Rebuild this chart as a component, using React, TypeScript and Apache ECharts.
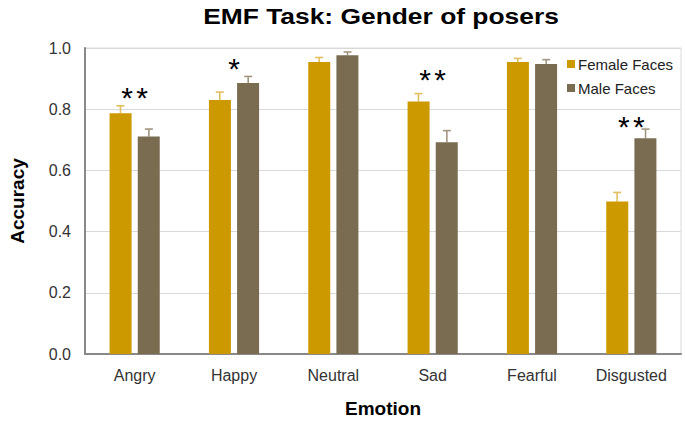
import React, { useEffect, useRef } from "react";
import * as echarts from "echarts";

const categories = ["Angry", "Happy", "Neutral", "Sad", "Fearful", "Disgusted"];
const femaleValues = [0.787, 0.83, 0.954, 0.825, 0.954, 0.498];
const femaleErrors = [0.024, 0.026, 0.015, 0.026, 0.012, 0.03];
const maleValues = [0.711, 0.886, 0.976, 0.692, 0.948, 0.705];
const maleErrors = [0.024, 0.021, 0.011, 0.038, 0.014, 0.03];
const significance = ["**", "*", "", "**", "", "**"];
const significanceY = [0.862, 0.955, 0, 0.919, 0, 0.765];
const yTicks = [0, 0.2, 0.4, 0.6, 0.8, 1.0];

const FONT = "'Liberation Sans', Arial, sans-serif";
const FEMALE = "#CC9900";
const MALE = "#7A6C50";

export default function App() {
  const ref = useRef<HTMLDivElement>(null);

  useEffect(() => {
    document.body.style.margin = "0";
    const chart = echarts.init(ref.current!, null, { renderer: "svg" });

    const errorSeries = (name: string, values: number[], errs: number[], dir: number, color: string) => ({
      type: "custom",
      name: name + " error",
      z: 1,
      silent: true,
      data: values.map((v, i) => [i, v, v + errs[i]]),
      renderItem: (params: any, api: any) => {
        const i = api.value(0);
        const base = api.coord([i, api.value(1)]);
        const top = api.coord([i, api.value(2)]);
        const x = base[0] + dir * 14.2;
        return {
          type: "group",
          children: [
            { type: "line", shape: { x1: x, y1: base[1], x2: x, y2: top[1] }, style: { stroke: color, lineWidth: 1.6 } },
            { type: "line", shape: { x1: x - 4, y1: top[1], x2: x + 4, y2: top[1] }, style: { stroke: color, lineWidth: 1.6 } },
          ],
        };
      },
    });

    chart.setOption({
      animation: false,
      graphic: [
        {
          type: "text",
          x: 381,
          y: 16,
          scaleX: 1.2,
          style: {
            text: "EMF Task: Gender of posers",
            font: `bold 22px ${FONT}`,
            fill: "#000",
            textAlign: "center",
            textVerticalAlign: "middle",
          },
        },
      ],
      legend: {
        orient: "vertical",
        left: 567,
        top: 56,
        padding: 0,
        itemWidth: 8,
        itemHeight: 8,
        itemGap: 8,
        icon: "rect",
        data: ["Female Faces", "Male Faces"],
        textStyle: { fontFamily: FONT, fontSize: 15, color: "#222", lineHeight: 16, padding: [0, 0, 0, -2] },
      },
      grid: {
        left: 75,
        right: 4,
        top: 48,
        bottom: 64,
        show: true,
        borderColor: "#d9d9d9",
        borderWidth: 1,
      },
      xAxis: {
        type: "category",
        data: categories,
        name: "Emotion",
        nameLocation: "middle",
        nameGap: 45,
        nameTextStyle: { fontFamily: FONT, fontSize: 19, fontWeight: "bold", color: "#000" },
        axisLine: { lineStyle: { color: "#898989", width: 2 } },
        axisTick: { show: false },
        axisLabel: { fontFamily: FONT, fontSize: 16, color: "#333", margin: 13 },
      },
      yAxis: {
        type: "value",
        min: 0,
        max: 1,
        interval: 0.2,
        name: "Accuracy",
        nameLocation: "middle",
        nameGap: 58,
        nameTextStyle: { fontFamily: FONT, fontSize: 19, fontWeight: "bold", color: "#000" },
        axisLine: { show: true, lineStyle: { color: "#898989", width: 2 } },
        axisTick: { show: false },
        splitLine: { lineStyle: { color: "#d9d9d9", width: 1 } },
        axisLabel: {
          fontFamily: FONT,
          fontSize: 16,
          color: "#333",
          margin: 14,
          formatter: (v: number) => (yTicks.includes(Math.round(v * 10) / 10) ? v.toFixed(1) : ""),
        },
      },
      series: [
        {
          type: "bar",
          name: "Female Faces",
          data: femaleValues,
          barWidth: 22,
          barGap: "28%",
          itemStyle: { color: FEMALE },
          z: 2,
        },
        {
          type: "bar",
          name: "Male Faces",
          data: maleValues,
          barWidth: 22,
          barGap: "28%",
          itemStyle: { color: MALE },
          z: 2,
        },
        errorSeries("Female Faces", femaleValues, femaleErrors, -1, "#E2BF5E"),
        errorSeries("Male Faces", maleValues, maleErrors, 1, "#A39480"),
        {
          type: "custom",
          name: "significance",
          silent: true,
          data: significance.map((s, i) => [i, significanceY[i]]),
          renderItem: (params: any, api: any) => {
            const i = api.value(0);
            const label = significance[i];
            if (!label) return null;
            const p = api.coord([i, api.value(1)]);
            const offsets = label.length === 2 ? [-7.5, 7.5] : [0];
            return {
              type: "group",
              children: offsets.map((dx) => ({
                type: "text",
                x: p[0] + dx,
                y: p[1] + 7,
                style: {
                  text: "*",
                  font: `30px ${FONT}`,
                  fill: "#000",
                  textAlign: "center",
                  textVerticalAlign: "middle",
                },
              })),
            };
          },
        },
      ],
    });

    return () => chart.dispose();
  }, []);

  return <div ref={ref} style={{ width: 685, height: 423 }} />;
}
